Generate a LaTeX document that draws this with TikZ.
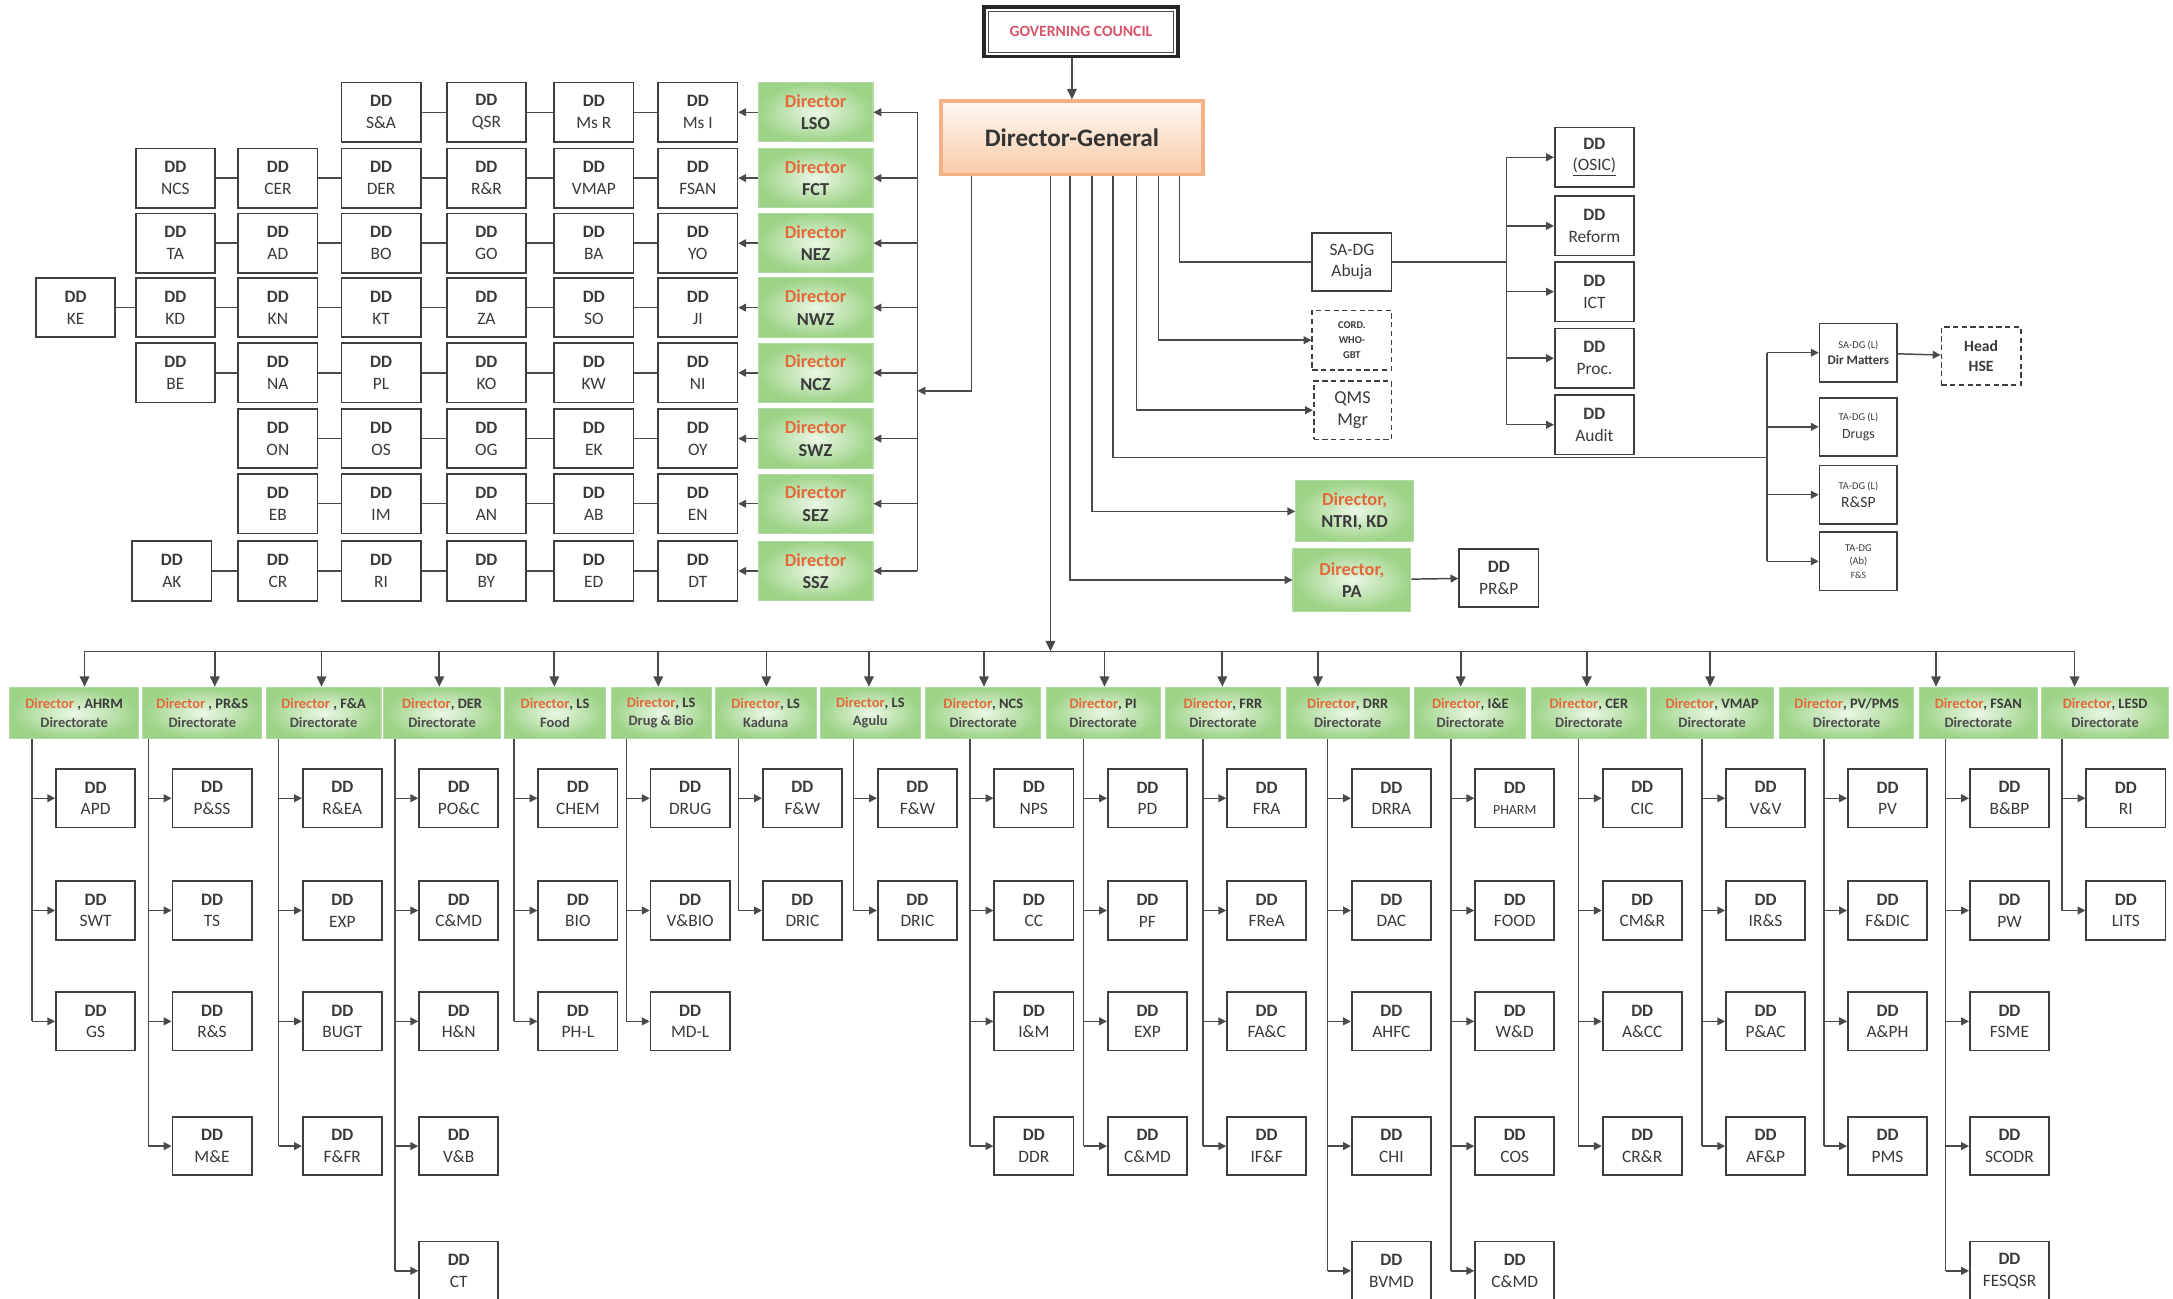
\documentclass[tikz,border=0pt]{standalone}
\usepackage{fontspec}
\setmainfont{Carlito}
\usetikzlibrary{arrows.meta,calc}
\definecolor{boxc}{HTML}{3F3F3F}
\definecolor{linec}{HTML}{4A4A4A}
\definecolor{txt}{HTML}{3A3A3A}
\definecolor{dirorange}{HTML}{E4683A}
\definecolor{gin}{HTML}{EBF7E6}
\definecolor{gout}{HTML}{9DD387}
\definecolor{gedge}{HTML}{B3D9A2}
\definecolor{gcred}{HTML}{D85468}
\definecolor{dgedge}{HTML}{F5B186}
\definecolor{dgtop}{HTML}{FFF8F3}
\definecolor{dgbot}{HTML}{F9CBAA}
\newcommand\orw[1]{\textcolor{dirorange}{#1}}
\tikzset{
  ln/.style={draw=linec, line width=0.85pt},
  arr/.style={ln, -{Triangle[length=4.5pt,width=4.5pt]}},
  bigarr/.style={ln, line width=1pt, -{Triangle[length=6pt,width=5.5pt]}},
  box/.style={draw=boxc, line width=1pt, fill=white, align=center, text=txt, inner sep=0pt},
  ddt/.style={box, minimum width=1.6cm, minimum height=1.2cm, font=\fontsize{10}{12.5}\selectfont},
  ddb/.style={box, minimum width=1.6cm, minimum height=1.18cm, font=\fontsize{10}{12.5}\selectfont},
  dashbox/.style={box, dashed, dash pattern=on 3pt off 2pt},
  greenbox/.style={draw=gedge, line width=0.6pt, inner color=gin, outer color=gout, align=center, text=txt, inner sep=0pt},
  dirt/.style={greenbox, minimum width=2.32cm, minimum height=1.2cm, font=\bfseries\fontsize{10.5}{13}\selectfont},
  dirb/.style={greenbox, minimum height=1.04cm, font=\bfseries\fontsize{8.3}{10.5}\selectfont},
}
% one row of the zonal grid
\newcommand\mygridrow[4]{%
  \node[dirt] (#1) at (588.5,#2) {\orw{Director}\\#3};
  \foreach \x/\t [count=\i] in {#4} {%
    \node[ddt] (#1-\i) at (\x,#2) {\textbf{DD}\\\t};
    \ifnum\i>1
      \pgfmathtruncatemacro\prv{\i-1}%
      \draw[ln] (#1-\prv) -- (#1-\i);
    \fi
  }%
  \coordinate (#1-r) at (662,#2);
  \draw[arr] (#1-r) -- (#1);
  \draw[arr] (#1) -- (#1-1);
}
% one directorate box
\newcommand\mydirec[5]{%
  \node[dirb, minimum width=#3cm] (#1) at (#2,514.5) {\orw{Director}#4\\{\color{black!70}#5}};
}
% the column of DD boxes under a directorate
\newcommand\myddcol[3]{%
  \foreach \t [count=\i] in {#3} {%
    \pgfmathsetmacro\yy{{576,657,737,827,917}[\i-1]}%
    \coordinate (#1-j\i) at (#2,\yy);
    \node[ddb] (#1-\i) at (#2+46,\yy) {\textbf{DD}\\\t};
    \draw[ln] (#1.south -| #1-j\i) -- (#1-j\i);
    \draw[arr] (#1-j\i) -- (#1-\i);
  }%
}
\begin{document}
\begin{tikzpicture}[x=0.028cm, y=-0.028cm]
\useasboundingbox[fill=white] (0,0) rectangle (1568,937);

% ---------- top ----------
\node[draw=black!85, line width=2pt, fill=white, minimum width=3.92cm, minimum height=1.0cm,
      text=gcred, font=\bfseries\fontsize{9}{11}\selectfont] (gc) at (780,23) {GOVERNING COUNCIL};
\draw[black!70, line width=0.6pt] ($(gc.north west)+(3.5pt,-3.5pt)$) rectangle ($(gc.south east)+(-3.5pt,3.5pt)$);
\node[draw=dgedge, line width=2.2pt, top color=dgtop, bottom color=dgbot, minimum width=5.29cm,
      minimum height=1.48cm, text=black!80, font=\bfseries\fontsize{14.5}{16}\selectfont] (dg) at (773.5,99.5) {Director-General};
\draw[bigarr] (gc.south -| dg.north) -- (dg.north);

% ---------- zonal grid ----------
\mygridrow{lso}{81}{LSO}{503.5/Ms I, 428.5/Ms R, 351/QSR, 275/S\&A}
\mygridrow{fct}{128.5}{FCT}{503.5/FSAN, 428.5/VMAP, 351/R\&R, 275/DER, 200.5/CER, 126.5/NCS}
\mygridrow{nez}{175.5}{NEZ}{503.5/YO, 428.5/BA, 351/GO, 275/BO, 200.5/AD, 126.5/TA}
\mygridrow{nwz}{222}{NWZ}{503.5/JI, 428.5/SO, 351/ZA, 275/KT, 200.5/KN, 126.5/KD, 54.5/KE}
\mygridrow{ncz}{269}{NCZ}{503.5/NI, 428.5/KW, 351/KO, 275/PL, 200.5/NA, 126.5/BE}
\mygridrow{swz}{316.5}{SWZ}{503.5/OY, 428.5/EK, 351/OG, 275/OS, 200.5/ON}
\mygridrow{sez}{363.5}{SEZ}{503.5/EN, 428.5/AB, 351/AN, 275/IM, 200.5/EB}
\mygridrow{ssz}{412}{SSZ}{503.5/DT, 428.5/ED, 351/BY, 275/RI, 200.5/CR, 124/AK}
\draw[ln] (lso-r) -- (ssz-r);
\coordinate (dgl) at (701,282);
\coordinate (lbus) at (662,282);
\draw[arr] (dg.south -| dgl) -- (dgl) -- (lbus);

% ---------- right of DG ----------
\node[box, minimum width=1.6cm, minimum height=1.18cm, font=\fontsize{10}{12.5}\selectfont] (sadg) at (975.5,189) {SA-DG\\Abuja};
\node[dashbox, minimum width=1.6cm, minimum height=1.2cm, font=\bfseries\fontsize{6}{8.5}\selectfont] (cord) at (975.5,245.5) {CORD.\\WHO-\\GBT};
\node[dashbox, minimum width=1.57cm, minimum height=1.18cm, font=\fontsize{10.5}{12.8}\selectfont] (qms) at (976,296) {QMS\\Mgr};
\node[dirt, minimum width=2.38cm, minimum height=1.23cm] (ntri) at (977.5,369) {\orw{Director,}\\NTRI, KD};
\node[dirt, minimum width=2.38cm, minimum height=1.26cm] (pa) at (975.5,418.5) {\orw{Director,}\\PA};
\node[ddb] (prp) at (1081.5,417) {\textbf{DD}\\PR\&P};

\node[ddt] (osic) at (1150.5,113.5) {\textbf{DD}\\\underline{(OSIC)}};
\node[ddt] (reform) at (1150.5,163) {\textbf{DD}\\Reform};
\node[ddt] (ict) at (1150.5,210.5) {\textbf{DD}\\ICT};
\node[ddt] (proc) at (1150.5,258.5) {\textbf{DD}\\Proc.};
\node[ddt] (audit) at (1150.5,306.5) {\textbf{DD}\\Audit};

\node[box, minimum width=1.57cm, minimum height=1.18cm, font=\fontsize{7.5}{9.6}\selectfont] (sal) at (1341,254.5)
  {{\fontsize{6}{7}\selectfont SA-DG (L)}\\\textbf{Dir Matters}};
\node[box, minimum width=1.57cm, minimum height=1.18cm, font=\fontsize{8}{10.5}\selectfont] (drugs) at (1341,308)
  {{\fontsize{6}{7}\selectfont TA-DG (L)}\\Drugs};
\node[box, minimum width=1.57cm, minimum height=1.18cm, font=\fontsize{9}{10.5}\selectfont] (rsp) at (1341,357)
  {{\fontsize{6}{7}\selectfont TA-DG (L)}\\R\&SP};
\node[box, minimum width=1.57cm, minimum height=1.18cm, font=\fontsize{6}{7.7}\selectfont] (fs) at (1341,405)
  {TA-DG\\(Ab)\\{\fontsize{5.5}{7}\selectfont F\&S}};
\node[dashbox, minimum width=1.6cm, minimum height=1.18cm, font=\bfseries\fontsize{9}{11.5}\selectfont] (hse) at (1429.5,257) {Head\\HSE};

\coordinate (v851) at (851,189);
\draw[ln] (dg.south -| v851) -- (v851) -- (sadg.west);
\coordinate (v836) at (836,245.5);
\draw[arr] (dg.south -| v836) -- (v836) -- (cord.west);
\coordinate (v820) at (820,296);
\draw[arr] (dg.south -| v820) -- (v820) -- (qms.west);
\coordinate (v803) at (803,330);
\coordinate (tab) at (1275,330);
\draw[ln] (dg.south -| v803) -- (v803) -- (tab);
\coordinate (v788) at (788,369);
\draw[arr] (dg.south -| v788) -- (v788) -- (ntri.west);
\coordinate (v772) at (772,418.5);
\draw[arr] (dg.south -| v772) -- (v772) -- (pa.west);
\draw[arr] (pa) -- (prp);

\coordinate (sb) at (1087,189);
\draw[ln] (sadg.east) -- (sb);
\draw[ln] (sb |- osic) -- (sb |- audit);
\foreach \n in {osic,reform,ict,proc,audit} \draw[arr] (sb |- \n) -- (\n.west);

\draw[ln] (tab |- sal) -- (tab |- fs);
\foreach \n in {sal,drugs,rsp,fs} \draw[arr] (tab |- \n) -- (\n.west);
\draw[arr] (sal) -- (hse);

% ---------- directorates ----------
\mydirec{d1}{53.5}{2.60}{ , AHRM}{Directorate}
\mydirec{d2}{146}{2.41}{ , PR\&S}{Directorate}
\mydirec{d3}{233.5}{2.32}{ , F\&A}{Directorate}
\mydirec{d4}{319}{2.35}{, DER}{Directorate}
\mydirec{d5}{400.5}{2.04}{, LS}{Food}
\mydirec{d6}{477}{2.02}{, LS}{Drug \& Bio}
\mydirec{d7}{552.5}{2.04}{, LS}{Kaduna}
\mydirec{d8}{628}{2.02}{, LS}{Agulu}
\mydirec{d9}{709.5}{2.32}{, NCS}{Directorate}
\mydirec{d10}{796}{2.30}{, PI}{Directorate}
\mydirec{d11}{882.5}{2.32}{, FRR}{Directorate}
\mydirec{d12}{972.5}{2.49}{, DRR}{Directorate}
\mydirec{d13}{1061}{2.24}{, I\&E}{Directorate}
\mydirec{d14}{1146.5}{2.32}{, CER}{Directorate}
\mydirec{d15}{1235.5}{2.49}{, VMAP}{Directorate}
\mydirec{d16}{1332.5}{2.72}{, PV/PMS}{Directorate}
\mydirec{d17}{1427.5}{2.38}{, FSAN}{Directorate}
\mydirec{d18}{1519}{2.58}{, LESD}{Directorate}

\foreach \d/\ax in {d1/61, d2/155, d3/232, d4/317, d5/400, d6/475, d7/553, d8/627, d9/710,
                    d10/797, d11/882, d12/951, d13/1054, d14/1145, d15/1234, d17/1397, d18/1497} {
  \coordinate (b-\d) at (\ax,470);
  \draw[bigarr] (b-\d) -- (b-\d |- \d.north);
}
\draw[ln] (b-d1) -- (b-d18);
\coordinate (bdg) at (758,470);
\draw[bigarr] (dg.south -| bdg) -- (bdg);

\myddcol{d1}{23}{APD,SWT,GS}
\myddcol{d2}{107}{P\&SS,TS,R\&S,M\&E}
\myddcol{d3}{201}{R\&EA,EXP,BUGT,F\&FR}
\myddcol{d4}{285}{PO\&C,C\&MD,H\&N,V\&B,CT}
\myddcol{d5}{371}{CHEM,BIO,PH-L}
\myddcol{d6}{452}{DRUG,V\&BIO,MD-L}
\myddcol{d7}{533}{F\&W,DRIC}
\myddcol{d8}{616}{F\&W,DRIC}
\myddcol{d9}{700}{NPS,CC,I\&M,DDR}
\myddcol{d10}{782}{PD,PF,EXP,C\&MD}
\myddcol{d11}{868}{FRA,FReA,FA\&C,IF\&F}
\myddcol{d12}{958}{DRRA,DAC,AHFC,CHI,BVMD}
\myddcol{d13}{1047}{{\fontsize{8}{10}\selectfont PHARM},FOOD,W\&D,COS,C\&MD}
\myddcol{d14}{1139}{CIC,CM\&R,A\&CC,CR\&R}
\myddcol{d15}{1228}{V\&V,IR\&S,P\&AC,AF\&P}
\myddcol{d16}{1316}{PV,F\&DIC,A\&PH,PMS}
\myddcol{d17}{1404}{B\&BP,PW,FSME,SCODR,FESQSR}
\myddcol{d18}{1488}{RI,LITS}
\end{tikzpicture}
\end{document}
